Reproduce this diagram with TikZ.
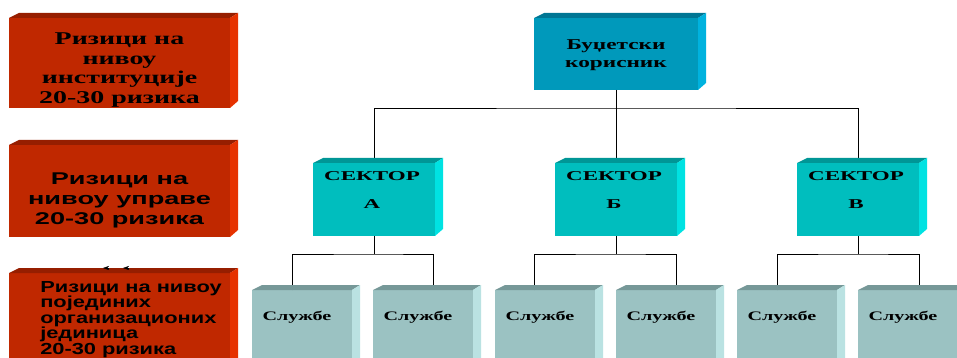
\documentclass[tikz,border=0pt]{standalone}
\usepackage{fontspec}
\newfontfamily\serifb{Liberation Serif}
\newfontfamily\sansb{Liberation Sans}
\usetikzlibrary{arrows.meta}
\usetikzlibrary{calc}

\definecolor{redfront}{RGB}{192,40,0}
\definecolor{redtop}{RGB}{150,30,0}
\definecolor{redside}{RGB}{230,50,0}
\definecolor{bluefront}{RGB}{0,153,187}
\definecolor{bluetop}{RGB}{0,118,148}
\definecolor{blueside}{RGB}{0,178,222}
\definecolor{secfront}{RGB}{0,190,190}
\definecolor{sectop}{RGB}{0,150,150}
\definecolor{secside}{RGB}{0,226,226}
\definecolor{unitfront}{RGB}{155,194,194}
\definecolor{unittop}{RGB}{118,152,152}
\definecolor{unitside}{RGB}{186,226,226}

% top and right faces of a box node
\newcommand{\boxfaces}[3]{%
\fill[#2] (#1.north west) -- ++(10,-5) -- ([shift={(8,-5)}]#1.north east) -- (#1.north east) -- cycle;
\fill[#3] (#1.north east) -- ++(8,-5) -- ([shift={(8,-7)}]#1.south east) -- (#1.south east) -- cycle;}

\tikzset{
  box/.style={rectangle,inner sep=0pt,outer sep=0pt},
  redbox/.style={box,fill=redfront,minimum width=221pt},
  bluebox/.style={box,fill=bluefront,minimum width=164pt,minimum height=72pt},
  secbox/.style={box,fill=secfront,minimum width=122pt,minimum height=73pt},
  unitbox/.style={box,fill=unitfront,minimum width=100pt,minimum height=90pt},
  lbl/.style={inner sep=0pt,xscale=1.55,align=center},
  link/.style={line width=0.8pt}
}

\begin{document}
\begin{tikzpicture}[x=1pt,y=-1pt]
\useasboundingbox (0,0) rectangle (957,358);
\clip (0,0) rectangle (957,358);

% levels on the left
\node[redbox,minimum height=90pt] (inst) at (119.5,63) {};
\node[redbox,minimum height=92pt] (uprava) at (119.5,191) {};
\node[redbox,minimum height=100pt] (jedinice) at (119.5,323) {};

% tree
\node[bluebox] (bk) at (616,54) {};
\node[secbox] (secA) at (374,199.5) {};
\node[secbox] (secB) at (616,199.5) {};
\node[secbox] (secC) at (858,199.5) {};

\node[unitbox] (s1) at (302,335) {};
\node[unitbox] (s2) at (423,335) {};
\node[unitbox] (s3) at (545,335) {};
\node[unitbox] (s4) at (666,335) {};
\node[unitbox] (s5) at (787,335) {};
\node[unitbox] (s6) at (908,335) {};

% connectors
\coordinate (bus) at ($(bk.south)+(0,18)$);
\draw[link] (bk.south) -- (secB.north);
\draw[link] (secA.north) |- (bus) -| (secC.north);

\coordinate (busA) at ($(secA.south)+(0,18)$);
\draw[link] (secA.south) -- (busA);
\draw[link] ([xshift=-10pt]s1.north) |- (busA) -| ([xshift=10pt]s2.north);

\coordinate (busB) at ($(secB.south)+(0,18)$);
\draw[link] (secB.south) -- (busB);
\draw[link] ([xshift=-11pt]s3.north) |- (busB) -| ([xshift=10pt]s4.north);

\coordinate (busC) at ($(secC.south)+(0,18)$);
\draw[link] (secC.south) -- (busC);
\draw[link] ([xshift=-10pt]s5.north) |- (busC) -| ([xshift=11pt]s6.north);

% faces
\boxfaces{inst}{redtop}{redside}
\boxfaces{uprava}{redtop}{redside}
\boxfaces{jedinice}{redtop}{redside}
\boxfaces{bk}{bluetop}{blueside}
\foreach \s in {secA,secB,secC}{\boxfaces{\s}{sectop}{secside}}
\foreach \s in {s1,s2,s3,s4,s5,s6}{\boxfaces{\s}{unittop}{unitside}}

% two stray arrow tips
\draw[-{Stealth[length=6pt,width=4pt]}] (109,268) -- (103,268);
\draw[-{Stealth[length=6pt,width=4pt]}] (129,268) -- (123,268);

% labels
\node[lbl,font=\serifb\bfseries\fontsize{18}{19.5}\selectfont] at ($(inst.center)+(0,7)$) {Ризици на\\нивоу\\институције\\20-30 ризика};
\node[lbl,xscale=1.03,font=\sansb\bfseries\fontsize{17}{20}\selectfont] at ($(uprava.center)+(0,9)$) {Ризици на\\нивоу управе\\20-30 ризика};
\node[lbl,xscale=0.88,anchor=north west,align=left,font=\sansb\bfseries\fontsize{16}{15.5}\selectfont] at (40,281) {Ризици на нивоу\\појединих\\организационих\\јединица\\20-30 ризика};

\node[lbl,font=\serifb\bfseries\fontsize{15}{18}\selectfont] at ($(bk.center)+(0,1)$) {Буџетски\\корисник};
\node[lbl,xscale=1.1,font=\serifb\bfseries\fontsize{13.5}{28}\selectfont] at ($(secA.center)+(-2,-9)$) {СЕКТОР\\А};
\node[lbl,xscale=1.1,font=\serifb\bfseries\fontsize{13.5}{28}\selectfont] at ($(secB.center)+(-2,-9)$) {СЕКТОР\\Б};
\node[lbl,xscale=1.1,font=\serifb\bfseries\fontsize{13.5}{28}\selectfont] at ($(secC.center)+(-2,-9)$) {СЕКТОР\\В};

\foreach \s in {s1,s2,s3,s4,s5,s6}{
\node[lbl,font=\serifb\bfseries\fontsize{13}{15}\selectfont] at ($(\s.center)+(-5,-18)$) {Службе};}
\end{tikzpicture}
\end{document}
